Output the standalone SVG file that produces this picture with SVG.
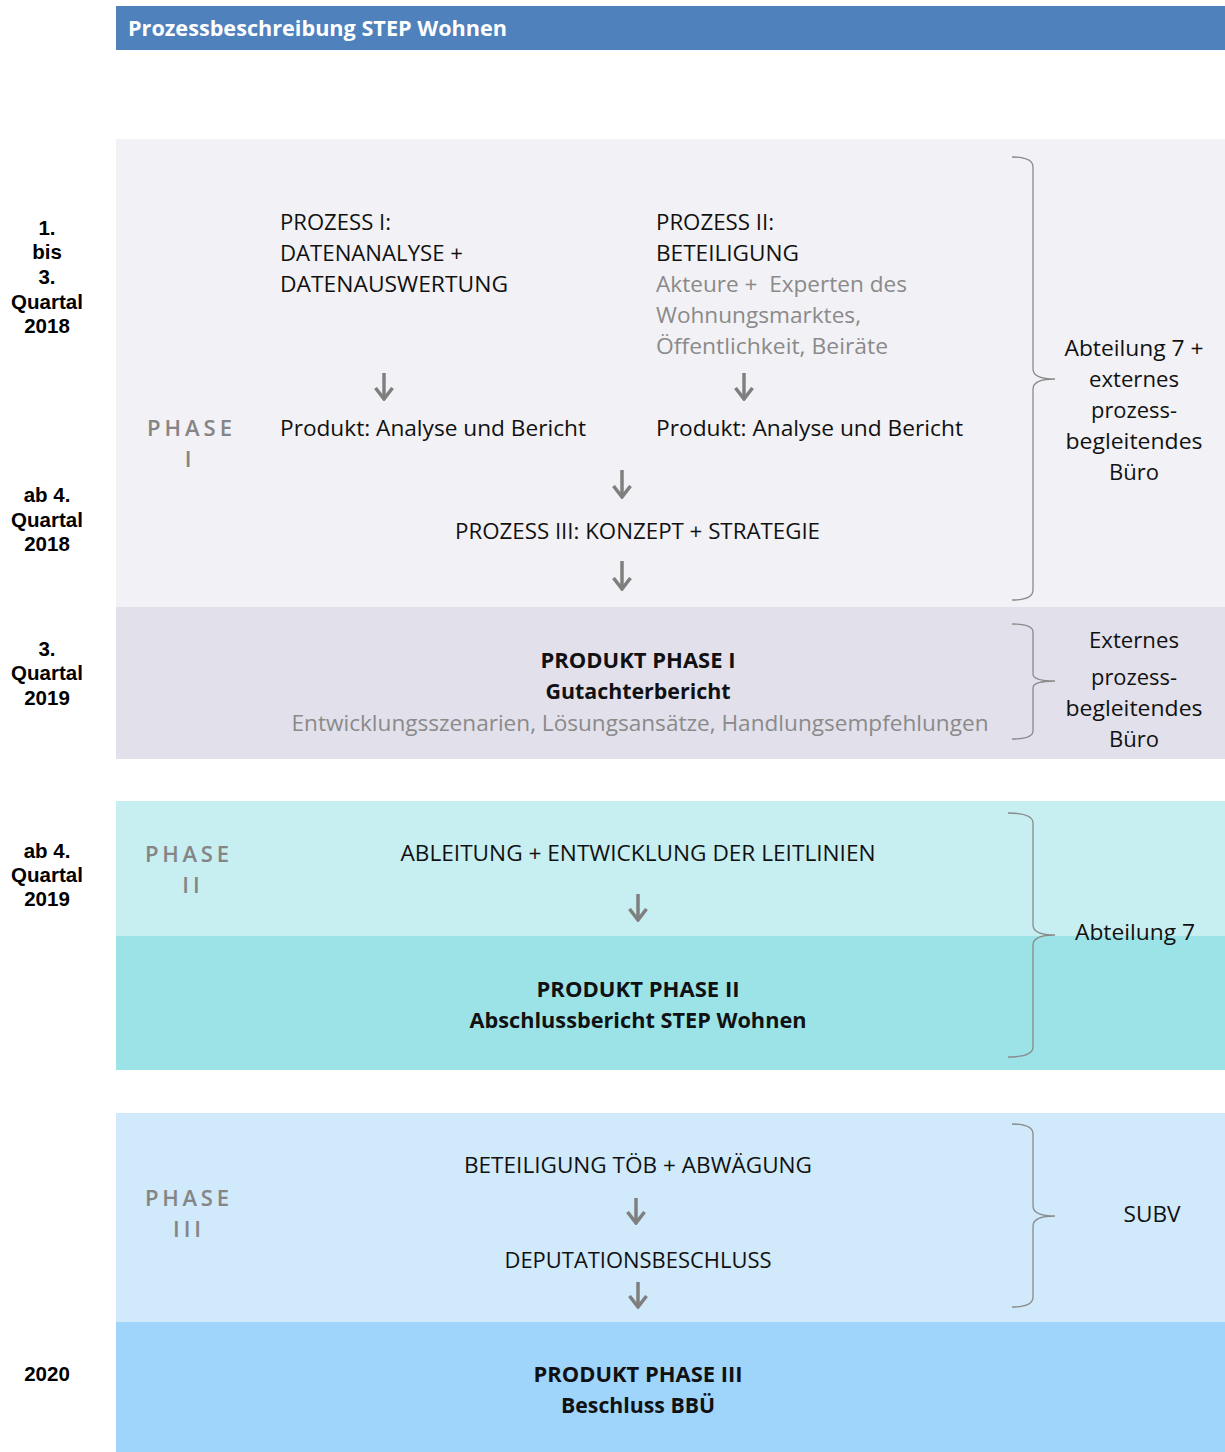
<svg xmlns="http://www.w3.org/2000/svg" width="1225" height="1452" viewBox="0 0 1225 1452">
<style>
.t{font-family:"Open Sans","Noto Sans",sans-serif;font-size:22px;fill:#111}
.g{fill:#8a8a8a}
.b{font-weight:bold}
.c{text-anchor:middle}
.ph{font-family:"Open Sans","Noto Sans",sans-serif;font-size:22px;font-weight:600;fill:#858585;letter-spacing:4px}
.q{font-family:"Liberation Sans",Arial,sans-serif;font-size:20.5px;font-weight:bold;fill:#000;text-anchor:middle}
.br{fill:none;stroke:#8a8a8a;stroke-width:1.3}
.ar{stroke:#7f7f7f;stroke-width:3.5;fill:none}
</style>
<defs>
<marker id="ah" viewBox="0 0 14 20" refX="12" refY="10" markerWidth="14" markerHeight="20" markerUnits="userSpaceOnUse" orient="auto">
<path d="M1,1.5 L12,10 L1,18.5" fill="none" stroke="#7f7f7f" stroke-width="3.5" stroke-linejoin="miter"/>
</marker>
</defs>
<rect width="1225" height="1452" fill="#ffffff"/>
<g id="header">
<rect x="116" y="6" width="1109" height="44" fill="#4f81bd"/>
<text x="128" y="36" font-family="'Open Sans','Noto Sans',sans-serif" font-size="21" font-weight="bold" fill="#ffffff" textLength="379" lengthAdjust="spacingAndGlyphs">Prozessbeschreibung STEP Wohnen</text>
</g>
<g id="timeline">
<text class="q" x="47" y="235">1.</text>
<text class="q" x="47" y="259">bis</text>
<text class="q" x="47" y="284">3.</text>
<text class="q" x="47" y="309">Quartal</text>
<text class="q" x="47" y="333">2018</text>
<text class="q" x="47" y="502">ab 4.</text>
<text class="q" x="47" y="527">Quartal</text>
<text class="q" x="47" y="551">2018</text>
<text class="q" x="47" y="656">3.</text>
<text class="q" x="47" y="680">Quartal</text>
<text class="q" x="47" y="705">2019</text>
<text class="q" x="47" y="858">ab 4.</text>
<text class="q" x="47" y="882">Quartal</text>
<text class="q" x="47" y="906">2019</text>
<text class="q" x="47" y="1381">2020</text>
</g>
<g id="phase1">
<rect x="116" y="139" width="1109" height="468" fill="#f2f1f5"/>
<text class="ph" x="147" y="436" textLength="89">PHASE</text>
<text class="ph" x="190" y="467" text-anchor="middle" letter-spacing="0">I</text>
</g>
<g id="prozess1">
<text class="t" x="280" y="230" textLength="111" lengthAdjust="spacingAndGlyphs">PROZESS I:</text>
<text class="t" x="280" y="261" textLength="183" lengthAdjust="spacingAndGlyphs">DATENANALYSE +</text>
<text class="t" x="280" y="292" textLength="228" lengthAdjust="spacingAndGlyphs">DATENAUSWERTUNG</text>
</g>
<g id="prozess2">
<text class="t" x="656" y="230" textLength="118" lengthAdjust="spacingAndGlyphs">PROZESS II:</text>
<text class="t" x="656" y="261" textLength="143" lengthAdjust="spacingAndGlyphs">BETEILIGUNG</text>
<text class="t g" x="656" y="292" textLength="251" lengthAdjust="spacingAndGlyphs" xml:space="preserve">Akteure +  Experten des</text>
<text class="t g" x="656" y="323" textLength="205" lengthAdjust="spacingAndGlyphs">Wohnungsmarktes,</text>
<text class="t g" x="656" y="354" textLength="232" lengthAdjust="spacingAndGlyphs">Öffentlichkeit, Beiräte</text>
</g>
<g id="produkt1a">
<text class="t" x="280" y="436" textLength="306" lengthAdjust="spacingAndGlyphs">Produkt: Analyse und Bericht</text>
</g>
<g id="produkt1b">
<text class="t" x="656" y="436" textLength="307" lengthAdjust="spacingAndGlyphs">Produkt: Analyse und Bericht</text>
</g>
<g id="prozess3">
<text class="t" x="455" y="539" textLength="365" lengthAdjust="spacingAndGlyphs">PROZESS III: KONZEPT + STRATEGIE</text>
</g>
<g id="zust1">
<path class="br" d="M1012,157 Q1033,157 1033,167 L1033,369 Q1033,379 1055,379 Q1033,379 1033,389 L1033,590 Q1033,600 1012,600"/>
<text class="t c" x="1134" y="356" textLength="139" lengthAdjust="spacingAndGlyphs">Abteilung 7 +</text>
<text class="t c" x="1134" y="387" textLength="90" lengthAdjust="spacingAndGlyphs">externes</text>
<text class="t c" x="1134" y="418" textLength="86" lengthAdjust="spacingAndGlyphs">prozess-</text>
<text class="t c" x="1134" y="449" textLength="137" lengthAdjust="spacingAndGlyphs">begleitendes</text>
<text class="t c" x="1134" y="480" textLength="50" lengthAdjust="spacingAndGlyphs">Büro</text>
</g>
<g id="produktphase1">
<rect x="116" y="607" width="1109" height="152" fill="#e2e0eb"/>
<text class="t b c" x="638" y="668" textLength="195" lengthAdjust="spacingAndGlyphs">PRODUKT PHASE I</text>
<text class="t b c" x="638" y="699" textLength="185" lengthAdjust="spacingAndGlyphs">Gutachterbericht</text>
<text class="t g c" x="640" y="731" textLength="697" lengthAdjust="spacingAndGlyphs">Entwicklungsszenarien, Lösungsansätze, Handlungsempfehlungen</text>
</g>
<g id="zust2">
<path class="br" d="M1012,624 Q1033,624 1033,632 L1033,674 Q1033,681 1055,681 Q1033,681 1033,688 L1033,731 Q1033,739 1012,739"/>
<text class="t c" x="1134" y="648" textLength="90" lengthAdjust="spacingAndGlyphs">Externes</text>
<text class="t c" x="1134" y="685" textLength="86" lengthAdjust="spacingAndGlyphs">prozess-</text>
<text class="t c" x="1134" y="716" textLength="137" lengthAdjust="spacingAndGlyphs">begleitendes</text>
<text class="t c" x="1134" y="747" textLength="50" lengthAdjust="spacingAndGlyphs">Büro</text>
</g>
<g id="phase2">
<rect x="116" y="801" width="1109" height="135" fill="#c7eef1"/>
<text class="ph" x="145" y="862" textLength="88">PHASE</text>
<text class="ph" x="193" y="893" text-anchor="middle">II</text>
<text class="t c" x="638" y="861" textLength="475" lengthAdjust="spacingAndGlyphs">ABLEITUNG + ENTWICKLUNG DER LEITLINIEN</text>
</g>
<g id="produktphase2">
<rect x="116" y="936" width="1109" height="134" fill="#9ce3e8"/>
<text class="t b c" x="638" y="997" textLength="203" lengthAdjust="spacingAndGlyphs">PRODUKT PHASE II</text>
<text class="t b c" x="638" y="1028" textLength="337" lengthAdjust="spacingAndGlyphs">Abschlussbericht STEP Wohnen</text>
</g>
<g id="zust3">
<path class="br" d="M1008,813 Q1033,813 1033,823 L1033,925 Q1033,935 1055,935 Q1033,935 1033,945 L1033,1047 Q1033,1057 1008,1057"/>
<text class="t c" x="1135" y="940" textLength="120" lengthAdjust="spacingAndGlyphs">Abteilung 7</text>
</g>
<g id="phase3">
<rect x="116" y="1113" width="1109" height="209" fill="#d0e9fb"/>
<text class="ph" x="145" y="1206" textLength="88">PHASE</text>
<text class="ph" x="189" y="1237" text-anchor="middle">III</text>
<text class="t c" x="638" y="1173" textLength="348" lengthAdjust="spacingAndGlyphs">BETEILIGUNG TÖB + ABWÄGUNG</text>
<text class="t c" x="638" y="1268" textLength="267" lengthAdjust="spacingAndGlyphs">DEPUTATIONSBESCHLUSS</text>
</g>
<g id="zust4">
<path class="br" d="M1012,1124 Q1033,1124 1033,1134 L1033,1206 Q1033,1216 1055,1216 Q1033,1216 1033,1226 L1033,1297 Q1033,1307 1012,1307"/>
<text class="t c" x="1152" y="1222" textLength="57" lengthAdjust="spacingAndGlyphs">SUBV</text>
</g>
<g id="produktphase3">
<rect x="116" y="1322" width="1109" height="130" fill="#9fd4fb"/>
<text class="t b c" x="638" y="1382" textLength="209" lengthAdjust="spacingAndGlyphs">PRODUKT PHASE III</text>
<text class="t b c" x="638" y="1413" textLength="154" lengthAdjust="spacingAndGlyphs">Beschluss BBÜ</text>
</g>
<g id="connectors">
<line class="ar" x1="384" y1="373" x2="384" y2="399" marker-end="url(#ah)"/>
<line class="ar" x1="744" y1="373" x2="744" y2="399" marker-end="url(#ah)"/>
<line class="ar" x1="622" y1="470" x2="622" y2="497" marker-end="url(#ah)"/>
<line class="ar" x1="622" y1="561" x2="622" y2="589" marker-end="url(#ah)"/>
<line class="ar" x1="638" y1="894" x2="638" y2="920" marker-end="url(#ah)"/>
<line class="ar" x1="636" y1="1198" x2="636" y2="1223" marker-end="url(#ah)"/>
<line class="ar" x1="638" y1="1282" x2="638" y2="1307" marker-end="url(#ah)"/>
</g>
</svg>
